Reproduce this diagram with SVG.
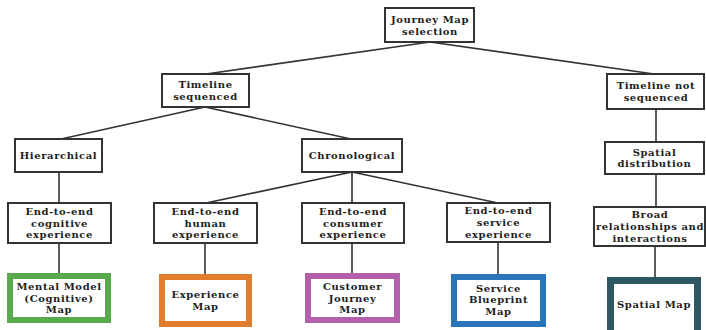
<svg xmlns="http://www.w3.org/2000/svg" width="706" height="330" viewBox="0 0 706 330">
<style>
.box{fill:#fff;stroke:#333;stroke-width:2}
.thick{fill:#fff;stroke-width:6}
text{font-family:"DejaVu Serif","Liberation Serif",serif;font-weight:bold;font-size:10px;letter-spacing:0.6px;fill:#1e1e1e;text-anchor:middle}
#connectors line{stroke:#333;stroke-width:1.6}
</style>
<rect width="706" height="330" fill="#fff"/>
<g id="connectors">
<line x1="430" y1="42" x2="206" y2="74"/>
<line x1="430" y1="42" x2="654" y2="74"/>
<line x1="205" y1="107" x2="61" y2="139"/>
<line x1="205" y1="107" x2="351" y2="139"/>
<line x1="59" y1="172" x2="59" y2="203"/>
<line x1="352" y1="172" x2="206" y2="203"/>
<line x1="352" y1="172" x2="352" y2="203"/>
<line x1="352" y1="172" x2="498" y2="203"/>
<line x1="656" y1="109" x2="656" y2="142"/>
<line x1="656" y1="174" x2="656" y2="207"/>
<line x1="59" y1="243" x2="59" y2="274"/>
<line x1="205" y1="243" x2="205" y2="275"/>
<line x1="352" y1="243" x2="352" y2="274"/>
<line x1="498" y1="242" x2="498" y2="275"/>
<line x1="655" y1="246" x2="655" y2="278"/>
</g>
<g id="root"><rect class="box" x="385" y="8" width="89" height="34"/><text x="430" y="22.8">Journey Map</text><text x="430" y="34.5">selection</text></g>
<g id="timeline-seq"><rect class="box" x="162" y="74" width="87" height="33"/><text x="205.5" y="88.2">Timeline</text><text x="205.5" y="99.9">sequenced</text></g>
<g id="timeline-not-seq"><rect class="box" x="607" y="74" width="97" height="35"/><text x="656" y="89.2">Timeline not</text><text x="656" y="100.9">sequenced</text></g>
<g id="hierarchical"><rect class="box" x="15" y="139" width="87" height="33"/><text x="58.5" y="159">Hierarchical</text></g>
<g id="chronological"><rect class="box" x="302" y="139" width="100" height="33"/><text x="352" y="159">Chronological</text></g>
<g id="spatial-dist"><rect class="box" x="605" y="142" width="99" height="32"/><text x="654.5" y="155.7">Spatial</text><text x="654.5" y="167.4">distribution</text></g>
<g id="cognitive-exp"><rect class="box" x="8" y="203" width="103" height="40"/><text x="59.5" y="214.8">End-to-end</text><text x="59.5" y="226.5">cognitive</text><text x="59.5" y="238.2">experience</text></g>
<g id="human-exp"><rect class="box" x="154" y="203" width="103" height="40"/><text x="205.5" y="214.8">End-to-end</text><text x="205.5" y="226.5">human</text><text x="205.5" y="238.2">experience</text></g>
<g id="consumer-exp"><rect class="box" x="302" y="203" width="102" height="40"/><text x="353" y="214.8">End-to-end</text><text x="353" y="226.5">consumer</text><text x="353" y="238.2">experience</text></g>
<g id="service-exp"><rect class="box" x="447" y="203" width="103" height="39"/><text x="498.5" y="214.3">End-to-end</text><text x="498.5" y="226">service</text><text x="498.5" y="237.7">experience</text></g>
<g id="broad"><rect class="box" x="594" y="207" width="111" height="39"/><text x="650" y="218.3">Broad</text><text x="650" y="230">relationships and</text><text x="650" y="241.7">interactions</text></g>
<g id="mental-model-map"><rect class="thick" x="10" y="276" width="98" height="44" stroke="#58aa4c"/><text x="59" y="289.8">Mental Model</text><text x="59" y="301.5">(Cognitive)</text><text x="59" y="313.2">Map</text></g>
<g id="experience-map"><rect class="thick" x="162" y="277" width="87" height="47" stroke="#e07d2e"/><text x="205.5" y="298.2">Experience</text><text x="205.5" y="309.9">Map</text></g>
<g id="customer-journey-map"><rect class="thick" x="308" y="276" width="89" height="44" stroke="#b25fae"/><text x="352.5" y="289.8">Customer</text><text x="352.5" y="301.5">Journey</text><text x="352.5" y="313.2">Map</text></g>
<g id="service-blueprint-map"><rect class="thick" x="454" y="277" width="89" height="47" stroke="#2a74ba"/><text x="498.5" y="291.5">Service</text><text x="498.5" y="303.2">Blueprint</text><text x="498.5" y="314.9">Map</text></g>
<g id="spatial-map"><rect x="610.5" y="280.5" width="87" height="62" fill="#fff" stroke="#2e5764" stroke-width="7"/><text x="654" y="308">Spatial Map</text></g>
</svg>
